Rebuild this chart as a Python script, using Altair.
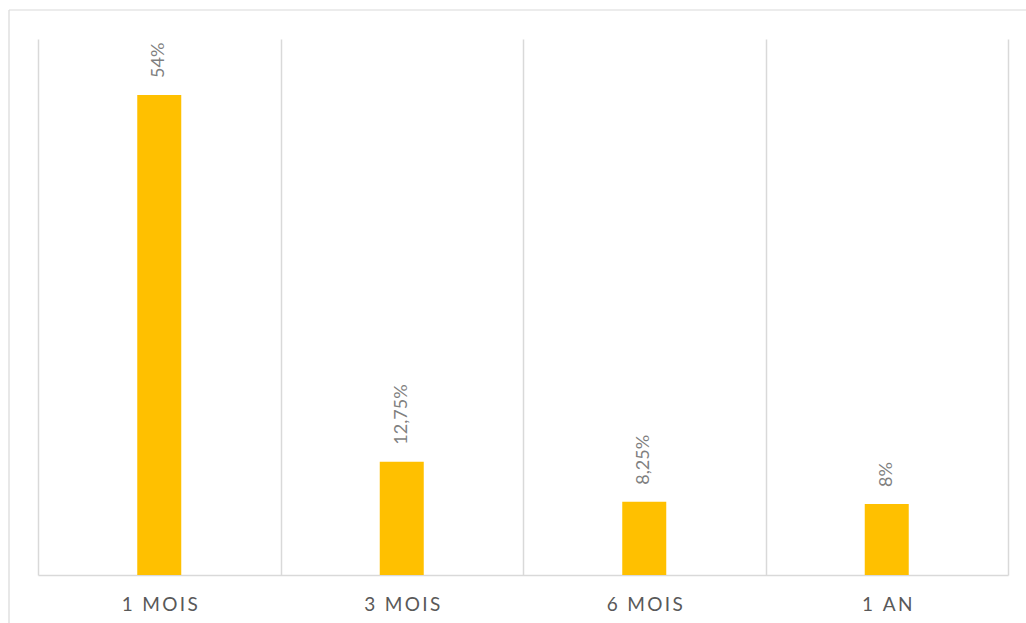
import altair as alt
import pandas as pd

# Share of respondents by period
categories = ["1 MOIS", "3 MOIS", "6 MOIS", "1 AN"]
values = [54, 12.75, 8.25, 8]


def fr_percent(v):
    s = f"{v:g}".replace(".", ",")
    return s + "%"


df = pd.DataFrame({
    "periode": categories,
    "valeur": values,
    "etiquette": [fr_percent(v) for v in values],
})

GRID = "#d9d9d9"
BAR = "#FFC000"

x_enc = alt.X(
    "periode:N",
    sort=categories,
    scale=alt.Scale(paddingInner=0, paddingOuter=0),
    axis=alt.Axis(
        title=None,
        labelAngle=0,
        grid=True,
        tickBand="extent",
        ticks=False,
        gridColor=GRID,
        gridWidth=1.5,
        domainColor=GRID,
        domainWidth=1.5,
        labelFont="Lato",
        labelFontSize=19,
        labelColor="#595959",
        labelPadding=20,
        labelExpr="join(split(datum.label, ''), '\u2009')",
    ),
)
y_enc = alt.Y("valeur:Q", scale=alt.Scale(domain=[0, 60.3], nice=False), axis=None)

bars = alt.Chart(df).mark_bar(width=44, color=BAR).encode(x=x_enc, y=y_enc)

labels = alt.Chart(df).mark_text(
    angle=270,
    align="left",
    baseline="middle",
    dx=17,
    font="Lato",
    fontSize=18,
    color="#7f7f7f",
).encode(x=alt.X("periode:N", sort=categories), y="valeur:Q", text="etiquette:N")

# Outer chart frame (left and top edges)
frame_left = alt.Chart(alt.Data(values=[{}])).mark_rule(color=GRID, strokeWidth=1.2).encode(
    x=alt.value(-29), y=alt.value(-29), y2=alt.value(700)
)
frame_top = alt.Chart(alt.Data(values=[{}])).mark_rule(color=GRID, strokeWidth=1.2).encode(
    x=alt.value(-29), x2=alt.value(1100), y=alt.value(-29)
)

chart = (
    alt.layer(frame_left, frame_top, bars, labels)
    .properties(
        width=970,
        height=536,
        padding={"left": 38, "top": 39, "right": 18, "bottom": 48},
        autosize=alt.AutoSizeParams(type="none"),
        background="white",
    )
    .configure_view(stroke=None)
)

chart.save("out.html", embed_options={"renderer": "svg", "actions": False})
